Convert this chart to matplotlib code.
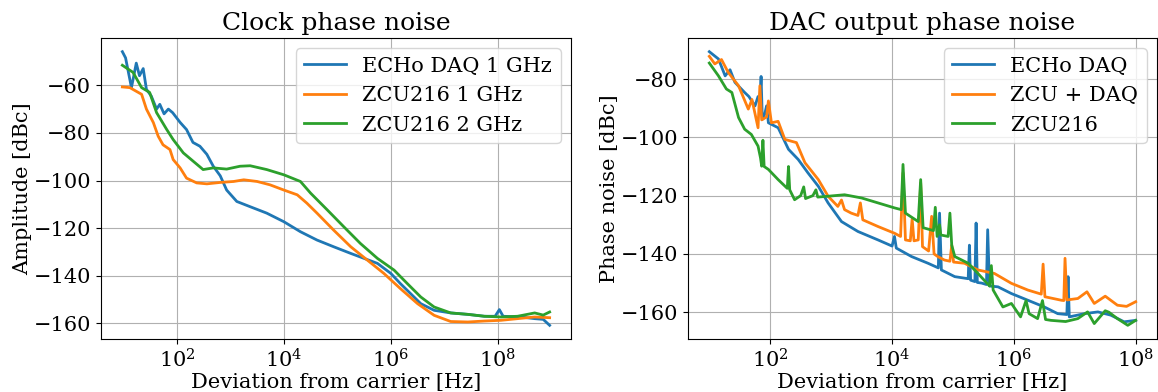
import numpy as np
import matplotlib
matplotlib.use("Agg")
import matplotlib.pyplot as plt

plt.rcParams['font.family'] = ['DejaVu Serif']
plt.rcParams['mathtext.fontset'] = 'dejavuserif'
plt.rcParams['font.size'] = 15

# ---------------- Left panel: Clock phase noise ----------------
clk_titles = "Clock phase noise"
echo1_lf = [0.98, 1.04, 1.15, 1.24, 1.30, 1.37, 1.43, 1.52, 1.62, 1.68, 1.76, 1.84, 1.92, 2.06, 2.18, 2.30, 2.43,
            2.56, 2.68, 2.81, 2.93, 3.12, 3.37, 3.68, 4.0, 4.31, 4.62, 4.93, 5.25, 5.50, 5.75, 6.0, 6.18,
            6.37, 6.56, 6.81, 7.12, 7.44, 7.75, 7.95, 8.03, 8.10, 8.43, 8.69, 8.85, 8.97]
echo1_db = [-45.9, -48.5, -61.0, -50.7, -56.0, -53.0, -61.7, -64.5, -70.0, -68.0, -72.0, -70.0, -71.5, -75.6,
            -78.6, -84.0, -85.6, -89.0, -94.0, -98.0, -104.0, -108.8, -111.0, -113.7, -117.3, -121.5,
            -125.0, -127.8, -130.6, -132.7, -134.8, -139.0, -143.3, -147.5, -151.7, -154.5, -155.6,
            -156.2, -157.0, -157.0, -154.2, -157.0, -157.3, -158.0, -158.3, -160.8]

zcu1_lf = [0.98, 1.12, 1.34, 1.43, 1.56, 1.65, 1.74, 1.87, 1.93, 2.06, 2.18, 2.37, 2.56, 2.81, 3.06, 3.25, 3.50,
           3.74, 4.0, 4.25, 4.43, 4.62, 4.93, 5.25, 5.56, 5.87, 6.18, 6.50, 6.81, 7.12, 7.44, 7.75, 8.06,
           8.37, 8.69, 8.97]
zcu1_db = [-60.7, -61.0, -63.8, -70.0, -75.7, -81.4, -85.0, -87.0, -91.2, -94.7, -99.0, -101.0, -101.4, -100.8,
           -100.4, -99.7, -100.4, -101.8, -104.0, -106.0, -109.5, -113.7, -120.8, -127.8, -133.4, -139.0,
           -145.4, -151.7, -156.6, -159.2, -159.4, -159.0, -158.7, -158.0, -157.3, -157.6]

zcu2_lf = [0.98, 1.18, 1.34, 1.49, 1.62, 1.81, 1.93, 2.12, 2.31, 2.49, 2.68, 2.93, 3.18, 3.37, 3.68, 4.0, 4.31,
           4.50, 4.81, 5.12, 5.43, 5.75, 6.06, 6.31, 6.56, 6.81, 7.12, 7.44, 7.75, 8.06, 8.37, 8.69, 8.85, 8.97]
zcu2_db = [-51.6, -54.6, -61.0, -63.0, -71.5, -78.6, -82.8, -88.4, -92.0, -95.4, -94.7, -95.2, -94.0, -93.8,
           -95.4, -97.6, -100.4, -105.3, -112.3, -119.4, -126.4, -132.7, -137.6, -143.3, -148.9, -153.1,
           -155.6, -156.2, -157.0, -157.3, -157.0, -155.6, -156.5, -155.2]

clk_labels = ["ECHo DAQ 1 GHz", "ZCU216 1 GHz", "ZCU216 2 GHz"]

# ---------------- Right panel: DAC output phase noise ----------------
dac_title = "DAC output phase noise"
echo_lf = [1.0, 1.15, 1.26, 1.34, 1.42, 1.58, 1.65, 1.75, 1.80, 1.83, 1.85, 1.87, 1.91, 1.94, 1.97, 2.13, 2.30,
           2.46, 2.62, 2.79, 2.95, 3.17, 3.44, 3.77, 4.0, 4.04, 4.07, 4.32, 4.59, 4.76, 4.78, 4.81, 5.03,
           5.25, 5.27, 5.29, 5.36, 5.38, 5.40, 5.47, 5.55, 5.57, 5.60, 5.74, 5.96, 6.23, 6.50, 6.72, 6.87,
           6.89, 6.91, 7.16, 7.38, 7.59, 7.81, 8.0]
echo_db = [-70.6, -73.1, -78.9, -76.8, -81.1, -84.6, -86.0, -89.2, -86.0, -88.0, -79.1, -93.8, -92.0, -89.2,
           -95.0, -96.7, -104.1, -107.6, -112.2, -116.8, -122.5, -128.9, -132.3, -135.2, -137.3, -134.0,
           -138.0, -140.9, -143.2, -144.8, -126.0, -145.5, -147.8, -148.5, -137.0, -149.0, -149.5, -129.4,
           -149.8, -150.0, -150.5, -131.7, -151.0, -151.3, -153.6, -155.9, -158.2, -160.5, -160.8, -147.8,
           -161.6, -160.5, -159.9, -161.0, -163.3, -162.8]

zcudaq_lf = [1.0, 1.09, 1.20, 1.31, 1.48, 1.64, 1.70, 1.80, 1.83, 1.86, 1.94, 1.97, 2.02, 2.13, 2.24, 2.43,
             2.57, 2.79, 2.95, 3.11, 3.17, 3.22, 3.33, 3.44, 3.48, 3.52, 3.77, 4.04, 4.14, 4.18, 4.22, 4.30,
             4.33, 4.36, 4.43, 4.47, 4.50, 4.60, 4.65, 4.69, 4.75, 4.86, 4.95, 4.98, 5.01, 5.19, 5.41, 5.68,
             5.96, 6.23, 6.45, 6.48, 6.51, 6.78, 6.82, 6.84, 6.87, 7.05, 7.20, 7.32, 7.50, 7.70, 7.85, 8.0]
zcudaq_db = [-72.2, -74.8, -73.3, -77.7, -82.3, -90.3, -87.0, -96.7, -82.3, -94.0, -93.0, -87.5, -95.0, -94.5,
             -100.7, -101.8, -108.7, -114.5, -120.2, -123.7, -121.5, -124.8, -126.0, -126.8, -122.5, -128.3,
             -130.6, -132.9, -134.0, -112.2, -135.2, -135.5, -128.0, -135.5, -135.2, -115.6, -137.5, -139.0,
             -127.1, -140.0, -140.9, -142.1, -142.5, -137.0, -142.8, -143.2, -145.5, -146.7, -150.1, -152.4,
             -153.8, -143.5, -154.7, -155.9, -156.0, -141.5, -155.8, -155.3, -153.0, -157.0, -154.5, -157.6,
             -158.0, -156.4]

zcu_lf = [1.0, 1.15, 1.28, 1.37, 1.48, 1.58, 1.69, 1.80, 1.84, 1.86, 1.88, 1.90, 1.97, 2.13, 2.28, 2.30, 2.32,
          2.40, 2.50, 2.55, 2.58, 2.70, 2.75, 2.78, 2.95, 3.22, 3.50, 3.77, 4.04, 4.15, 4.18, 4.22, 4.43,
          4.47, 4.51, 4.68, 4.71, 4.74, 4.78, 4.80, 4.92, 4.95, 4.98, 5.03, 5.25, 5.41, 5.60, 5.63, 5.66,
          5.82, 5.96, 6.11, 6.20, 6.25, 6.39, 6.47, 6.52, 6.61, 6.85, 7.05, 7.21, 7.32, 7.50, 7.56, 7.70,
          7.87, 8.0]
zcu_db = [-74.5, -78.9, -83.4, -84.6, -93.2, -97.2, -99.0, -103.0, -107.0, -109.9, -101.0, -110.0, -111.0,
          -114.5, -117.5, -110.0, -118.0, -121.4, -120.0, -117.0, -121.0, -120.0, -118.0, -120.5, -120.2,
          -119.7, -120.8, -122.5, -124.2, -124.8, -109.3, -126.0, -128.9, -114.5, -131.0, -132.0, -124.0,
          -134.0, -130.0, -133.5, -134.0, -126.0, -137.0, -140.9, -143.2, -146.7, -151.0, -144.0, -152.4,
          -158.2, -157.0, -161.6, -156.0, -160.5, -162.2, -156.0, -162.5, -162.8, -163.2, -162.2, -159.9,
          -163.9, -159.5, -160.0, -162.2, -164.5, -162.8]

dac_labels = ["ECHo DAQ", "ZCU + DAQ", "ZCU216"]

colors = ["#1f77b4", "#ff7f0e", "#2ca02c"]

W, H = 1158, 392
fig = plt.figure(figsize=(W / 100, H / 100), dpi=100)
ax1 = fig.add_axes([101 / W, 1 - 339 / H, (571 - 101) / W, (339 - 38) / H])
ax2 = fig.add_axes([688 / W, 1 - 339 / H, (1157 - 688) / W, (339 - 38) / H])

for lf, db, lab, c in zip([echo1_lf, zcu1_lf, zcu2_lf], [echo1_db, zcu1_db, zcu2_db], clk_labels, colors):
    ax1.plot(10 ** np.array(lf), db, color=c, lw=2, label=lab)
for lf, db, lab, c in zip([echo_lf, zcudaq_lf, zcu_lf], [echo_db, zcudaq_db, zcu_db], dac_labels, colors):
    ax2.plot(10 ** np.array(lf), db, color=c, lw=2, label=lab)

for ax in (ax1, ax2):
    ax.set_xscale('log')
    ax.grid(True)
    ax.set_xlabel("Deviation from carrier [Hz]", labelpad=1)
    ax.legend(loc='upper right')
    ax.minorticks_off()

ax1.set_title(clk_titles, fontsize=18)
ax2.set_title(dac_title, fontsize=18)
ax1.set_ylabel("Amplitude [dBc]", labelpad=1)
ax2.set_ylabel("Phase noise [dBc]", labelpad=1)

fig.savefig("out.png", dpi=100)
